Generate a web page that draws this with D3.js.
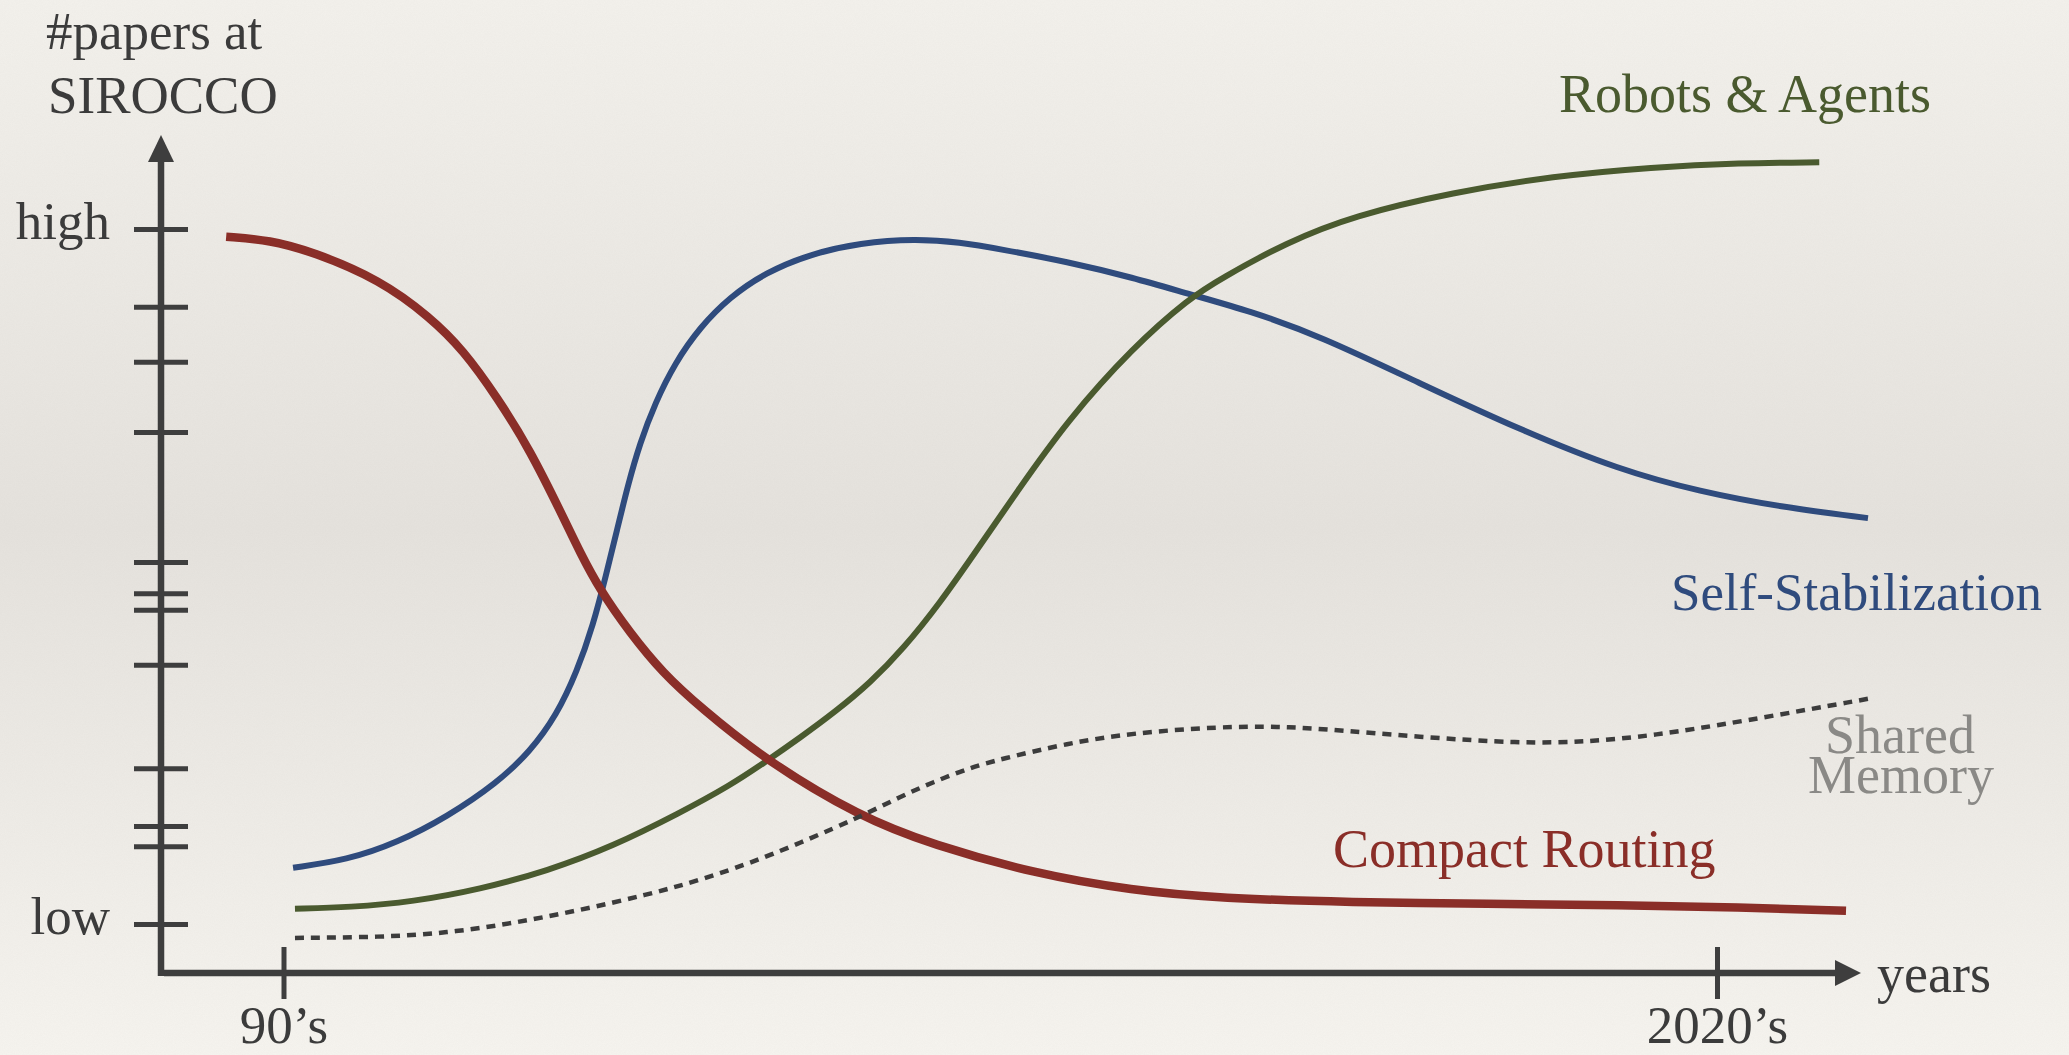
<!DOCTYPE html>
<html lang="en">
    <head>
        <meta charset="utf-8">
        <style>
        html, body { margin: 0; padding: 0; background: #eeece7; overflow: hidden; }
        text { font-family: "Liberation Serif", "DejaVu Serif", serif; }
        </style>
        <script src="https://d3js.org/d3.v7.min.js"></script>
    </head>
    <body>
    <script>
    // values: [year, level], level 0 = "low", 100 = "high"
    var seriesNames = ["Self-Stabilization", "Robots & Agents", "Compact Routing", "Shared Memory"];

    var selfStabilization = [
        [1990.20, 8.1], [1991.33, 9.2], [1992.38, 11.7], [1993.42, 15.4], [1994.47, 20.3],
        [1995.16, 24.8], [1995.72, 30.1], [1996.14, 36.3], [1996.48, 43.0], [1996.75, 50.2],
        [1996.98, 56.7], [1997.21, 63.2], [1997.46, 69.2], [1997.78, 75.0], [1998.19, 80.7],
        [1998.72, 85.9], [1999.34, 90.2], [2000.08, 93.7], [2001.02, 96.4], [2002.07, 98.0],
        [2003.22, 98.6], [2004.16, 98.1], [2005.00, 97.1], [2006.40, 95.3], [2007.78, 93.0],
        [2008.97, 90.6], [2010.23, 88.2], [2011.69, 84.6], [2013.78, 77.8], [2015.88, 71.1],
        [2017.97, 65.3], [2019.65, 62.2], [2021.32, 60.0], [2023.16, 58.4]
    ];

    var robotsAgents = [
        [1990.24, 2.2], [1991.39, 2.4], [1992.71, 3.2], [1994.11, 5.0], [1995.51, 7.6],
        [1996.90, 11.2], [1998.30, 16.0], [1999.34, 19.9], [2000.08, 23.3], [2000.81, 26.8],
        [2001.54, 30.5], [2002.28, 34.7], [2002.97, 39.6], [2003.74, 46.2], [2004.47, 53.4],
        [2005.35, 62.2], [2006.40, 72.4], [2007.78, 83.0], [2008.97, 90.1], [2009.60, 92.8],
        [2011.00, 98.1], [2012.38, 101.9], [2014.48, 105.3], [2016.57, 107.6], [2018.66, 108.9],
        [2020.48, 109.5], [2022.14, 109.6]
    ];

    var compactRouting = [
        [1988.80, 98.9], [1989.72, 98.4], [1990.62, 96.7], [1992.02, 92.7], [1993.07, 87.3],
        [1993.76, 82.6], [1994.47, 75.8], [1995.16, 68.2], [1995.85, 58.6], [1996.21, 53.4],
        [1996.62, 48.1], [1997.25, 41.9], [1997.94, 36.1], [1998.72, 31.2], [2000.08, 23.6],
        [2002.07, 15.4], [2003.59, 11.4], [2005.69, 7.3], [2007.78, 4.8], [2009.60, 3.7],
        [2012.38, 3.1], [2015.19, 2.9], [2017.97, 2.7], [2020.48, 2.4], [2022.70, 1.9]
    ];

    var sharedMemory = [
        [1990.24, -2.0], [1992.02, -1.9], [1993.42, -1.3], [1994.80, 0.1], [1996.21, 2.0],
        [1997.61, 4.2], [1998.72, 6.3], [2000.12, 9.6], [2002.07, 15.4], [2002.90, 18.3],
        [2003.59, 20.4], [2004.37, 22.5], [2005.00, 23.7], [2006.40, 26.0], [2007.78, 27.5],
        [2009.60, 28.4], [2010.86, 28.4], [2011.69, 28.1], [2013.78, 26.9], [2015.88, 26.0],
        [2017.28, 26.2], [2018.66, 27.1], [2020.48, 29.1], [2023.16, 32.4]
    ];

    var yTickValues = [0, 11.2, 14.1, 22.4, 37.3, 45.2, 47.6, 52.1, 70.8, 80.9, 88.8, 100];
    var yTickLabels = ["low", "high"];
    var xTickValues = [1990, 2020];
    var xTickLabels = ["90\u2019s", "2020\u2019s"];

    var width = 2069,
        height = 1055;

    var originX = 161, originY = 973, xEnd = 1861, yEnd = 135;
    var axisColor = "#3e3e3e";

    var x = d3.scaleLinear().domain([1990, 2020]).range([283.5, 1717]);
    var y = d3.scaleLinear().domain([0, 100]).range([924, 229]);

    var svg = d3.select("body").append("svg")
        .attr("width", width)
        .attr("height", height);

    // paper background
    var defs = svg.append("defs");
    var grad = defs.append("linearGradient")
        .attr("id", "paper")
        .attr("x1", 0).attr("y1", 0).attr("x2", 0).attr("y2", 1);
    grad.append("stop").attr("offset", "0%").attr("stop-color", "#f3f1ec");
    grad.append("stop").attr("offset", "50%").attr("stop-color", "#e5e2dd");
    grad.append("stop").attr("offset", "100%").attr("stop-color", "#f6f4ef");

    var noise = defs.append("filter").attr("id", "grain");
    noise.append("feTurbulence")
        .attr("type", "fractalNoise")
        .attr("baseFrequency", 0.9)
        .attr("numOctaves", 2)
        .attr("seed", 3);
    noise.append("feColorMatrix")
        .attr("type", "matrix")
        .attr("values", "0 0 0 0 0.45  0 0 0 0 0.43  0 0 0 0 0.40  0 0 0 0.6 0");

    svg.append("rect").attr("width", width).attr("height", height).attr("fill", "url(#paper)");
    svg.append("rect").attr("width", width).attr("height", height)
        .attr("filter", "url(#grain)").attr("opacity", 0.1);

    // axes
    var yAxis = d3.axisLeft(y)
        .tickValues(yTickValues)
        .tickSize(54)
        .tickPadding(24)
        .tickFormat(function(d) {
            if (d == yTickValues[0]) return yTickLabels[0];
            if (d == yTickValues[yTickValues.length - 1]) return yTickLabels[1];
            return "";
        });

    var gy = svg.append("g")
        .attr("transform", "translate(" + (originX + 27) + ",0)")
        .call(yAxis);
    gy.select(".domain").remove();
    gy.selectAll(".tick line").attr("stroke", axisColor).attr("stroke-width", 5);
    gy.selectAll(".tick text")
        .attr("fill", "#3b3b3b")
        .attr("font-size", 53)
        .attr("font-family", "Liberation Serif")
        .attr("dy", "0.17em");

    var xAxis = d3.axisBottom(x)
        .tickValues(xTickValues)
        .tickSize(52)
        .tickPadding(6)
        .tickFormat(function(d, i) { return xTickLabels[i]; });

    var gx = svg.append("g")
        .attr("transform", "translate(0," + (originY - 26) + ")")
        .call(xAxis);
    gx.select(".domain").remove();
    gx.selectAll(".tick line").attr("stroke", axisColor).attr("stroke-width", 5);
    gx.selectAll(".tick text")
        .attr("fill", "#3b3b3b")
        .attr("font-size", 53)
        .attr("font-family", "Liberation Serif");

    // axis lines with arrow heads
    svg.append("line")
        .attr("x1", originX).attr("y1", originY + 3)
        .attr("x2", originX).attr("y2", yEnd + 20)
        .attr("stroke", axisColor).attr("stroke-width", 6.5);
    svg.append("path")
        .attr("d", "M" + originX + "," + yEnd + "L" + (originX + 13) + "," + (yEnd + 27) +
                   "L" + (originX - 13) + "," + (yEnd + 27) + "Z")
        .attr("fill", axisColor);

    svg.append("line")
        .attr("x1", originX + 3).attr("y1", originY)
        .attr("x2", xEnd - 20).attr("y2", originY)
        .attr("stroke", axisColor).attr("stroke-width", 6.5);
    svg.append("path")
        .attr("d", "M" + xEnd + "," + originY + "L" + (xEnd - 26) + "," + (originY - 13) +
                   "L" + (xEnd - 26) + "," + (originY + 13) + "Z")
        .attr("fill", axisColor);

    // curves (b-spline smooths out the hand-read points)
    var line = d3.line()
        .x(function(d) { return x(d[0]); })
        .y(function(d) { return y(d[1]); })
        .curve(d3.curveBasis);

    svg.append("path").datum(selfStabilization)
        .attr("d", line).attr("fill", "none")
        .attr("stroke", "#2f4b7d").attr("stroke-width", 6);

    svg.append("path").datum(robotsAgents)
        .attr("d", line).attr("fill", "none")
        .attr("stroke", "#4a5a2f").attr("stroke-width", 6);

    svg.append("path").datum(compactRouting)
        .attr("d", line).attr("fill", "none")
        .attr("stroke", "#8a2e28").attr("stroke-width", 8.5);

    svg.append("path").datum(sharedMemory)
        .attr("d", line).attr("fill", "none")
        .attr("stroke", "#3c3c3c").attr("stroke-width", 4.5)
        .attr("stroke-dasharray", "9 7");

    // texts
    function label(txt, px, py, color, size, anchor) {
        svg.append("text")
            .attr("x", px).attr("y", py)
            .attr("fill", color)
            .attr("font-size", size)
            .attr("text-anchor", anchor || "start")
            .text(txt);
    }

    label("#papers at", 46, 49, "#3b3b3b", 53);
    label("SIROCCO", 48, 113, "#3b3b3b", 53);
    label("years", 1877, 992, "#3b3b3b", 54);

    label(seriesNames[1], 1559, 112, "#4a5a2f", 54);
    label(seriesNames[0], 1671, 610, "#2f4b7d", 53);
    label(seriesNames[2], 1333, 867, "#8a2e28", 54);
    label("Shared", 1900, 753, "#8a8986", 54, "middle");
    label("Memory", 1901, 793, "#8a8986", 54, "middle");
    </script>
    </body>
</html>
